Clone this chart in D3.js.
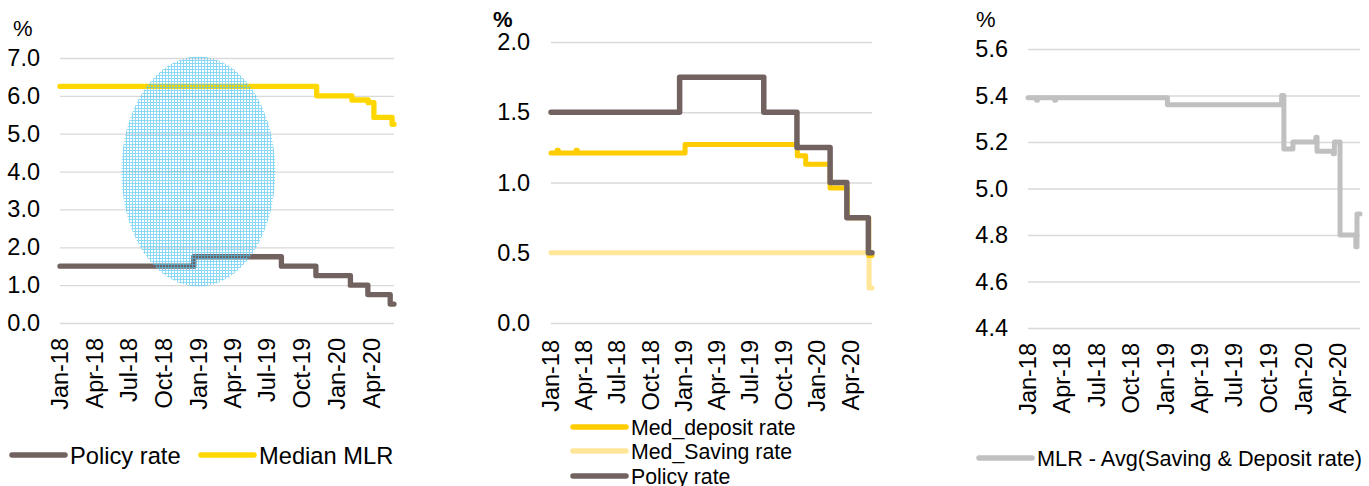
<!DOCTYPE html>
<html>
<head>
<meta charset="utf-8">
<script src="https://cdn.jsdelivr.net/npm/d3@7"></script>
<style>
  body { margin: 0; background: #fff; }
  svg { display: block; font-family: "Liberation Sans", Arial, sans-serif; }
</style>
</head>
<body>
<svg id="chart" width="1369" height="486"></svg>
<script>
// Data

var xTickLabels = ["Jan-18","Apr-18","Jul-18","Oct-18","Jan-19","Apr-19","Jul-19","Oct-19","Jan-20","Apr-20"];
var xTickDates = ["2018-01-01","2018-04-01","2018-07-01","2018-10-01","2019-01-01","2019-04-01","2019-07-01","2019-10-01","2020-01-01","2020-04-01"];

var policyDates = ["2018-01-01","2018-12-20","2019-08-08","2019-11-07","2020-02-06","2020-03-23","2020-05-21","2020-05-31"];
var policyValues = [1.50, 1.75, 1.50, 1.25, 1.00, 0.75, 0.50, 0.50];

var mlrDates = ["2018-01-01","2019-11-09","2020-02-10","2020-03-24","2020-04-08","2020-05-26","2020-05-31"];
var mlrValues = [6.25, 6.00, 5.89, 5.82, 5.43, 5.25, 5.25];

var depositDates = ["2018-01-01","2018-01-18","2018-01-21","2018-03-11","2018-03-14","2019-01-04","2019-11-08","2019-12-01","2020-02-06","2020-03-24","2020-05-22","2020-05-31"];
var depositValues = [1.21, 1.23, 1.21, 1.23, 1.21, 1.27, 1.19, 1.13, 0.96, 0.75, 0.48, 0.48];

var savingDates = ["2018-01-01","2020-05-20","2020-05-23","2020-05-31"];
var savingValues = [0.50, 0.50, 0.25, 0.25];

var spreadDates = ["2018-01-01","2018-01-24","2018-01-26","2018-03-13","2018-03-15","2019-01-06","2019-11-05","2019-11-11","2019-12-05","2020-02-04","2020-02-07","2020-03-21","2020-03-24","2020-04-08","2020-05-20","2020-05-23","2020-05-31"];
var spreadValues = [5.39, 5.38, 5.39, 5.38, 5.39, 5.36, 5.40, 5.17, 5.20, 5.22, 5.16, 5.15, 5.20, 4.80, 4.75, 4.89, 4.89];

// Colours
var cPolicy = "#716260", cMlr = "#FFD700", cDeposit = "#FFCC00", cSaving = "#FFE699", cSpread = "#C0C0C0";

var parse = d3.timeParse("%Y-%m-%d");
var svg = d3.select("#chart");

// hatch pattern for the ellipse
var pat = svg.append("defs").append("pattern")
  .attr("id", "hatch").attr("patternUnits", "userSpaceOnUse")
  .attr("width", 3).attr("height", 3);
pat.append("path").attr("d", "M0,0.5H3M0.5,0V3")
  .attr("stroke", "#4CC4F2").attr("stroke-width", 1).attr("opacity", 0.65);

function zip(dates, values) {
  return dates.map(function(d, i) { return {date: parse(d), value: values[i]}; });
}

function addPanel(opt) {
  var g = svg.append("g");
  var x = d3.scaleTime().domain([parse("2018-01-01"), parse("2020-05-31")]).range([opt.x0, opt.x1]);
  var y = d3.scaleLinear().domain(opt.yDomain).range([opt.y0, opt.y1]);

  // grid + y labels
  var yAxis = d3.axisLeft(y).tickValues(opt.yTicks).tickSize(opt.x0 - opt.x1)
    .tickFormat(d3.format(".1f")).tickPadding(opt.x0 - opt.labelX);
  var ya = g.append("g").attr("transform", "translate(" + opt.x0 + ",0)").call(yAxis);
  ya.select(".domain").remove();
  ya.selectAll(".tick line").attr("stroke", "#D9D9D9").attr("stroke-width", 1.3);
  ya.selectAll(".tick text").attr("font-size", 23.5).attr("fill", "#000")
    .attr("font-family", "Liberation Sans, Arial, sans-serif");

  g.append("text").attr("x", opt.pctX).attr("y", opt.pctY).attr("font-size", 22)
    .attr("font-weight", opt.pctBold ? "bold" : "normal").text("%");

  // x labels
  g.selectAll(".xl").data(xTickDates).enter().append("text")
    .attr("transform", function(d) { return "translate(" + x(parse(d)) + "," + opt.xLabelY + ") rotate(-90)"; })
    .attr("text-anchor", "end").attr("dy", "0.36em").attr("font-size", 23.5)
    .text(function(d, i) { return xTickLabels[i]; });

  // lines
  var line = d3.line().curve(d3.curveStepAfter)
    .x(function(d) { return x(d.date); }).y(function(d) { return y(d.value); });
  opt.series.forEach(function(s) {
    g.append("path").datum(zip(s.dates, s.values)).attr("d", line)
      .attr("fill", "none").attr("stroke", s.color).attr("stroke-width", s.width)
      .attr("stroke-linejoin", "round").attr("stroke-linecap", "round");
  });

  // legend
  opt.legend.forEach(function(l) {
    g.append("line").attr("x1", l.x).attr("x2", l.x + 53).attr("y1", l.y).attr("y2", l.y)
      .attr("stroke", l.color).attr("stroke-width", 5.5).attr("stroke-linecap", "round");
    g.append("text").attr("x", l.x + 58).attr("y", l.y).attr("dy", "0.36em")
      .attr("font-size", opt.legendSize).text(l.label);
  });
  return {g: g, x: x, y: y};
}

var p1 = addPanel({
  x0: 60, x1: 394, y0: 323, y1: 58, yDomain: [0, 7], yTicks: [0,1,2,3,4,5,6,7],
  labelX: 40, pctX: 13, pctY: 36, pctBold: false, xLabelY: 338, legendSize: 23.7,
  series: [
    {dates: policyDates, values: policyValues, color: cPolicy, width: 5.3},
    {dates: mlrDates, values: mlrValues, color: cMlr, width: 5.3}
  ],
  legend: [
    {x: 12, y: 455, color: cPolicy, label: "Policy rate"},
    {x: 201, y: 455, color: cMlr, label: "Median MLR"}
  ]
});

// highlighted ellipse
p1.g.append("ellipse")
  .attr("cx", p1.x(parse("2019-01-01"))).attr("cy", p1.y(4.0))
  .attr("rx", 77).attr("ry", 115)
  .attr("fill", "url(#hatch)");

addPanel({
  x0: 551, x1: 872, y0: 323, y1: 42, yDomain: [0, 2], yTicks: [0, 0.5, 1, 1.5, 2],
  labelX: 530, pctX: 493, pctY: 27, pctBold: true, xLabelY: 340, legendSize: 21.3,
  series: [
    {dates: savingDates, values: savingValues, color: cSaving, width: 5},
    {dates: depositDates, values: depositValues, color: cDeposit, width: 5},
    {dates: policyDates, values: policyValues, color: cPolicy, width: 5.5}
  ],
  legend: [
    {x: 573, y: 427, color: cDeposit, label: "Med_deposit rate"},
    {x: 573, y: 451, color: cSaving, label: "Med_Saving rate"},
    {x: 573, y: 476, color: cPolicy, label: "Policy rate"}
  ]
});

addPanel({
  x0: 1028, x1: 1360, y0: 328, y1: 49, yDomain: [4.4, 5.6], yTicks: [4.4,4.6,4.8,5.0,5.2,5.4,5.6],
  labelX: 1008, pctX: 976, pctY: 27, pctBold: false, xLabelY: 343, legendSize: 21.7,
  series: [
    {dates: spreadDates, values: spreadValues, color: cSpread, width: 5}
  ],
  legend: [
    {x: 979, y: 458, color: cSpread, label: "MLR - Avg(Saving & Deposit rate)"}
  ]
});
</script>
</body>
</html>
